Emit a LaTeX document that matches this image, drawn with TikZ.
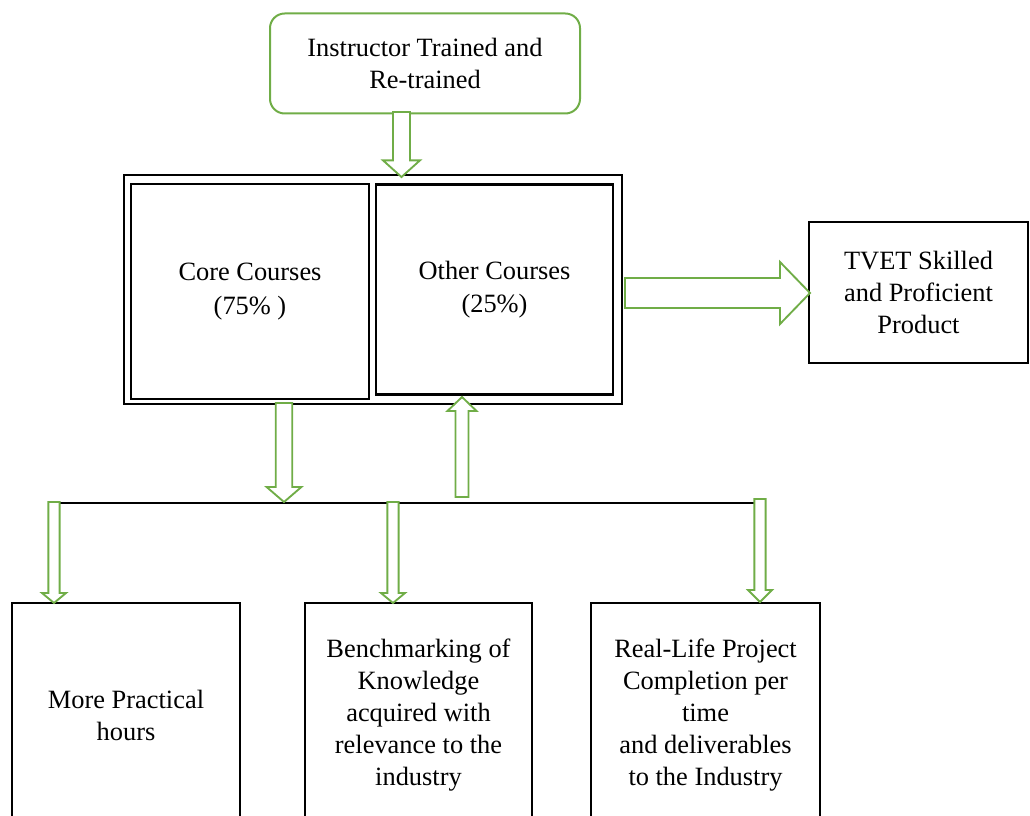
\documentclass[tikz,border=0pt]{standalone}
\usepackage{fontspec}
\setmainfont{Liberation Serif}
\usetikzlibrary{calc}
\definecolor{arrgreen}{RGB}{112,173,71}
% hollow block arrow: from, to, shaft half width, head half width, head length
\newcommand{\blockarrow}[5]{%
  \draw[blockarr] ($(#1)!#3!90:(#2)$) -- ($($(#2)!#5!(#1)$)!#3!90:(#2)$) -- ($($(#2)!#5!(#1)$)!#4!90:(#2)$) -- (#2) -- ($($(#2)!#5!(#1)$)!#4!-90:(#2)$) -- ($($(#2)!#5!(#1)$)!#3!-90:(#2)$) -- ($(#1)!#3!-90:(#2)$) -- cycle ;}
\begin{document}
\begin{tikzpicture}[x=0.75pt,y=0.75pt,yscale=-1,xscale=1,
    box/.style={draw, line width=1.8pt, align=center, inner sep=0.75pt, font=\fontsize{19.8}{24}\selectfont},
    blockarr/.style={draw=arrgreen, line width=1.4pt, fill=white, line join=miter}]
        \useasboundingbox (0,0) rectangle (1030,816);
        \clip (0,0) rectangle (1030,816);
        %Shape: Rounded Rect
        \node[box, draw=arrgreen, line width=1.5pt, rounded corners=11pt, minimum width=232.5pt, minimum height=75pt] (trained) at (425,63.5) {Instructor Trained and\\Re-trained};
        %Shape: Rectangle
        \node[box, minimum width=373.5pt, minimum height=171.75pt] (courses) at (373,289.5) {};
        \node[box, minimum width=178.5pt, minimum height=161.25pt, font=\fontsize{19.8}{25}\selectfont] (core) at (250,291.5) {Core Courses\\(75\% )};
        \node[box, minimum width=177.75pt, minimum height=157.5pt, font=\fontsize{19.8}{25}\selectfont] (other) at (494.5,289.5) {Other Courses\\(25\%)};
        %Shape: Rectangle
        \node[box, minimum width=164.25pt, minimum height=105.75pt] (tvet) at (918.5,292.5) {TVET Skilled\\and Proficient\\Product};
        %Shape: Rectangle
        \node[box, minimum width=171pt, minimum height=168pt] (practical) at (126,715) {More Practical\\hours};
        \node[box, minimum width=170.25pt, minimum height=168pt] (bench) at (418.5,715) {Benchmarking of\\Knowledge\\acquired with\\relevance to the\\industry};
        \node[box, minimum width=171.75pt, minimum height=168pt] (project) at (705.5,715) {Real-Life Project\\Completion per\\time\\and deliverables\\to the Industry};
        %Straight Lines
        \coordinate (busL) at (48,503);
        \coordinate (busR) at (760,503);
        \draw[line width=2pt] (busL) -- (busR);
        % arrow ends
        \coordinate (a1s) at (401.5,112);
        \coordinate (a1e) at (401.5,177);
        \coordinate (a2s) at (625,293);
        \coordinate (a2e) at (810,293);
        \coordinate (a3s) at (284,403);
        \coordinate (a3e) at (284,502);
        \coordinate (a4s) at (462,497);
        \coordinate (a4e) at (462,397);
        \coordinate (a5s) at (54,502);
        \coordinate (a5e) at (54,603);
        \coordinate (a6s) at (393,502);
        \coordinate (a6e) at (393,603);
        \coordinate (a7s) at (760,499);
        \coordinate (a7e) at (760,602);
        %Shape: Down/Right/Up Arrows
        \blockarrow{a1s}{a1e}{6.4pt}{13.9pt}{12.5pt}
        \blockarrow{a2s}{a2e}{11.25pt}{23.25pt}{22.5pt}
        \blockarrow{a3s}{a3e}{6.2pt}{13.1pt}{11.3pt}
        \blockarrow{a4s}{a4e}{4.9pt}{10.9pt}{10.5pt}
        \blockarrow{a5s}{a5e}{4.2pt}{9pt}{7.5pt}
        \blockarrow{a6s}{a6e}{4.2pt}{9pt}{7.5pt}
        \blockarrow{a7s}{a7e}{4.2pt}{9pt}{9pt}
    \end{tikzpicture}
\end{document}
